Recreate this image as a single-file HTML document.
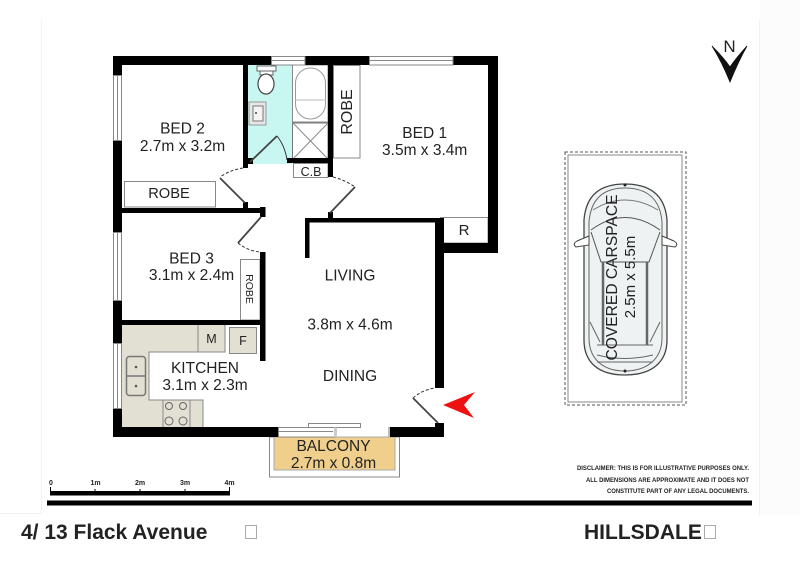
<!DOCTYPE html>
<html><head><meta charset="utf-8"><style>
html,body{margin:0;padding:0;background:#fff}
svg{display:block;filter:blur(0.35px)}
text{font-family:"Liberation Sans",sans-serif;fill:#222}
</style></head><body>
<svg width="800" height="566" viewBox="0 0 800 566" xmlns="http://www.w3.org/2000/svg">
<rect width="800" height="566" fill="#fff"/>
<path d="M41.5 20V513.5H0M759.5 20V515.5" fill="none" stroke="#f2f2f2"/>
<rect x="760" y="0" width="40" height="515" fill="#fcfcfc"/>

<!-- bathroom -->
<rect x="248" y="65" width="44" height="99" fill="#c8f6f1"/>
<!-- kitchen counters -->
<path d="M122 325H225V352H149V400H203V427H122Z" fill="#e2dfd3"/>
<path d="M198 325V352M225 325V352H149V400H203V427M163 400V427M190 400V427" fill="none" stroke="#888" stroke-width="1"/>
<rect x="229.500" y="327.500" width="27" height="26" fill="#e2dfd3" stroke="#888"/>
<rect x="126.500" y="356.500" width="19" height="39" rx="3" fill="#e2dfd3" stroke="#777" stroke-width="1.500"/>
<path d="M127 376H145" stroke="#777" stroke-width="1.500"/>
<circle cx="136" cy="367" r="1.300" fill="#555"/><circle cx="136" cy="386" r="1.300" fill="#555"/>
<g fill="none" stroke="#666"><circle cx="169" cy="406" r="3.500"/><circle cx="183" cy="406" r="3.500"/><circle cx="169" cy="421" r="4"/><circle cx="183" cy="421" r="4"/></g>

<!-- balcony -->
<rect x="269.500" y="437" width="130" height="40" fill="#fff" stroke="#888"/>
<rect x="274" y="437" width="121" height="33" fill="#f0cf8c" stroke="#aaa"/>

<!-- robes -->
<g fill="#fff" stroke="#888">
<rect x="333.500" y="65.500" width="26.500" height="92.500"/>
<rect x="124.500" y="181.500" width="91" height="25.500"/>
<rect x="240.500" y="259.500" width="19.500" height="60.500"/>
<rect x="293.500" y="163.500" width="34.500" height="14"/>
<rect x="440.500" y="217.500" width="47.500" height="25.500"/>
</g>

<!-- bath fixtures -->
<rect x="292.500" y="65" width="35.500" height="57" fill="#fff" stroke="#888"/>
<rect x="295.500" y="68" width="30" height="51" rx="15" fill="#fff" stroke="#999"/>
<path d="M295 100H326" stroke="#bbb"/>
<rect x="292.500" y="123" width="35.500" height="36" fill="#fff" stroke="#777"/>
<path d="M293 123L328 159M328 123L293 159" stroke="#888"/>
<rect x="257" y="66" width="19" height="5" fill="#fff" stroke="#666"/>
<rect x="260" y="71" width="13" height="4" fill="#fff" stroke="#666"/>
<ellipse cx="266" cy="84" rx="8" ry="10" fill="#fff" stroke="#444" stroke-width="1.200"/>
<rect x="249" y="102" width="17" height="23" fill="#e6e6e6" stroke="#999"/>
<rect x="253" y="106" width="10" height="15" fill="#f4f4f4" stroke="#777"/>
<circle cx="256" cy="113" r="1" fill="#444"/>

<!-- walls -->
<g fill="#000">
<rect x="113" y="56" width="385" height="9"/>
<rect x="113" y="56" width="9" height="381"/>
<rect x="488" y="56" width="10" height="197"/>
<rect x="435" y="243" width="63" height="10"/>
<rect x="435" y="218" width="9" height="170"/>
<rect x="305" y="218" width="135" height="4.500"/>
<rect x="305" y="218" width="4.500" height="40"/>
<rect x="122" y="208" width="143" height="5"/>
<rect x="260" y="207" width="5.500" height="10"/>
<rect x="260" y="252" width="5.500" height="109"/>
<rect x="122" y="320" width="143" height="5"/>
<rect x="243" y="65" width="5" height="103"/>
<rect x="328" y="65" width="5" height="112"/>
<rect x="287" y="158" width="41" height="5"/>
<rect x="113" y="427" width="165" height="10"/>
<rect x="389" y="427" width="55" height="10"/>
<rect x="435" y="423" width="9" height="14"/>
<rect x="248" y="158" width="5" height="6"/>
<rect x="243" y="202" width="5" height="6"/>
<rect x="328" y="212" width="5" height="6"/>
</g>

<!-- windows -->
<g fill="#fff" stroke="#888">
<rect x="271.500" y="56.500" width="33.500" height="8.500"/>
<rect x="369.500" y="56.500" width="83.500" height="8.500"/>
<rect x="113.500" y="75.500" width="8" height="65"/>
<rect x="113.500" y="232.500" width="8" height="68"/>
<rect x="113.500" y="343.500" width="8" height="65"/>
<rect x="278.500" y="427.500" width="57" height="9.500"/>
<rect x="308.500" y="423.500" width="52" height="4"/>
</g>
<path d="M271 60.500H305M369 60.500H453M117.500 75V140M117.500 232V300M117.500 343V408M279 431.500H333" stroke="#888" fill="none"/>
<rect x="334" y="427.500" width="3" height="9.500" fill="#ccc"/>
<rect x="388" y="427" width="2" height="10" fill="#bbb"/>

<!-- doors -->
<g fill="none" stroke="#444" stroke-width="1.800">
<path d="M250 162L277 136"/>
<path d="M220 178L245 203"/>
<path d="M355 187L330 213"/>
<path d="M261 217L238 243"/>
<path d="M413 398L438 423"/>
</g>
<g fill="none" stroke="#333" stroke-width="1">
<path d="M277 136Q285 146 287 160"/>
<path d="M243 168Q230 170 220 177" stroke-dasharray="3 2"/>
<path d="M333 177Q345 180 355 187" stroke-dasharray="3 2"/>
<path d="M238 243Q248 251 260 252" stroke-dasharray="3 2"/>
<path d="M413 398Q422 390 435 388" stroke-dasharray="3 2"/>
</g>

<!-- entry arrow -->
<path d="M443 405L475 392L464 405L474 418Z" fill="#ee1111"/>

<!-- room labels -->
<g text-anchor="middle" font-size="15.500">
<text x="182.500" y="133.500">BED 2</text>
<text x="182.500" y="151">2.7m x 3.2m</text>
<text x="169" y="198" font-size="14.700">ROBE</text>
<text x="424.700" y="138">BED 1</text>
<text x="424.700" y="155">3.5m x 3.4m</text>
<text x="464" y="235" font-size="15">R</text>
<text x="191.500" y="263.500">BED 3</text>
<text x="191.500" y="280">3.1m x 2.4m</text>
<text x="205" y="373">KITCHEN</text>
<text x="205" y="390">3.1m x 2.3m</text>
<text x="350" y="280.500">LIVING</text>
<text x="350" y="329.500">3.8m x 4.6m</text>
<text x="350" y="381">DINING</text>
<text x="333.500" y="451">BALCONY</text>
<text x="333.500" y="468">2.7m x 0.8m</text>
<text x="311" y="176" font-size="12.500">C.B</text>
<text x="211.500" y="343" font-size="12.500">M</text>
<text x="243" y="345" font-size="12.500">F</text>
<text transform="translate(352 112) rotate(-90)" font-size="16">ROBE</text>
<text transform="translate(246 289) rotate(90)" font-size="10.500">ROBE</text>
</g>

<!-- north -->
<path d="M712 46Q724 58 730 67Q736 58 747 46Q738 62 730 82Q722 62 712 46Z" fill="#111" stroke="#111" stroke-width="0.800"/>
<text x="729.500" y="52" text-anchor="middle" font-size="17" fill="#222">N</text>

<!-- carspace -->
<rect x="565" y="152" width="121" height="253" fill="none" stroke="#555" stroke-dasharray="3 2"/>
<rect x="568" y="155" width="114" height="247" fill="none" stroke="#888"/>
<path d="M625 184C600 184 586 195 584 220V340C584 362 598 375 625 375C652 375 667 362 667 340V220C665 195 650 184 625 184Z" fill="#eef2f2" stroke="#444" stroke-width="1.300"/>
<path d="M625 188C604 188 591 198 589 222V338C589 358 602 371 625 371C648 371 662 358 662 338V222C660 198 646 188 625 188Z" fill="none" stroke="#666"/>
<path d="M591 230Q625 205 660 230M591 232L601 262H649L660 232" fill="none" stroke="#555"/>
<path d="M593 210Q625 190 658 210" fill="none" stroke="#777"/>
<path d="M603 262V345M647 262V345" stroke="#666" stroke-width="2.500"/>
<path d="M597 345H653M597 355Q625 362 653 355M597 362H653M590 322L600 342M660 322L650 342" fill="none" stroke="#666"/>
<path d="M589 236L577 241Q572 244 576 247L589 245ZM662 236L674 241Q679 244 675 247L662 245Z" fill="#fff" stroke="#444"/>
<circle cx="625" cy="185" r="1.500" fill="#222"/><circle cx="625" cy="371" r="1.500" fill="#222"/>
<text transform="translate(617 277.500) rotate(-90)" text-anchor="middle" font-size="16" textLength="166" lengthAdjust="spacingAndGlyphs">COVERED CARSPACE</text>
<text transform="translate(635 277) rotate(-90)" text-anchor="middle" font-size="15">2.5m x 5.5m</text>

<!-- scale -->
<rect x="50" y="491" width="180" height="4.500" fill="#000"/>
<path d="M50.500 487V492M95 489V492M140 489V492M185 489V492M229.500 487V492" stroke="#000"/>
<g font-size="7" text-anchor="middle" font-weight="bold" fill="#333">
<text x="51" y="485">0</text><text x="95.500" y="485">1m</text><text x="140" y="485">2m</text><text x="185" y="485">3m</text><text x="229.500" y="485">4m</text>
</g>
<rect x="47" y="500.500" width="705" height="5" fill="#000"/>

<!-- disclaimer -->
<g font-size="6.800" text-anchor="end" font-weight="bold" fill="#333">
<text x="749" y="470" textLength="172" lengthAdjust="spacingAndGlyphs">DISCLAIMER: THIS IS FOR ILLUSTRATIVE PURPOSES ONLY.</text>
<text x="749" y="482" textLength="163" lengthAdjust="spacingAndGlyphs">ALL DIMENSIONS ARE APPROXIMATE AND IT DOES NOT</text>
<text x="749" y="493" textLength="142" lengthAdjust="spacingAndGlyphs">CONSTITUTE PART OF ANY LEGAL DOCUMENTS.</text>
</g>

<!-- footer -->
<text x="21" y="539" font-size="21" font-weight="bold" fill="#111">4/ 13 Flack Avenue</text>
<rect x="245.500" y="525.500" width="11" height="13" fill="#fff" stroke="#aaa"/>
<text x="584" y="539" font-size="21" font-weight="bold" fill="#111">HILLSDALE</text>
<rect x="704.500" y="525.500" width="11" height="13" fill="#fff" stroke="#aaa"/>
</svg>
</body></html>
